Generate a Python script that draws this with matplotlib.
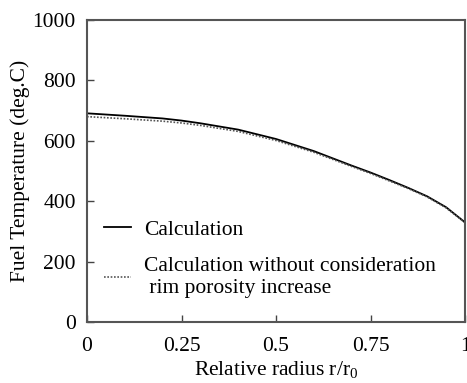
import matplotlib
matplotlib.use("Agg")
import matplotlib.pyplot as plt

plt.rcParams["font.family"] = ["Liberation Serif", "DejaVu Serif"]
plt.rcParams["mathtext.fontset"] = "custom"
plt.rcParams["mathtext.rm"] = "Liberation Serif"

radius = [0.0, 0.1, 0.2, 0.25, 0.3, 0.4, 0.5, 0.6, 0.7, 0.75, 0.8, 0.85, 0.9, 0.95, 1.0]
temp_calc = [691, 683, 674, 667, 658, 637, 606, 566, 518, 495, 470, 444, 416, 380, 330]
temp_no_rim = [680, 673, 665, 659, 651, 631, 601, 562, 515, 492, 467, 442, 414, 378, 329]

x_ticks = [0, 0.25, 0.5, 0.75, 1]
x_tick_labels = ["0", "0.25", "0.5", "0.75", "1"]
y_ticks = [0, 200, 400, 600, 800, 1000]

fig = plt.figure(figsize=(4.67, 3.83), dpi=100)
ax = fig.add_axes([87 / 467, 61 / 383, 378 / 467, 302 / 383])

ax.plot(radius, temp_calc, color="black", linewidth=1.3, label="Calculation")
ax.plot(radius, temp_no_rim, color="#555555", linewidth=1.2, linestyle=(0, (1, 1)),
        label="Calculation without consideration\n rim porosity increase")

ax.set_xlim(0, 1)
ax.set_ylim(0, 1000)
ax.set_xticks(x_ticks)
ax.set_xticklabels(x_tick_labels)
ax.set_yticks(y_ticks)
ax.tick_params(direction="in", length=5, width=1, color="#444444",
               labelsize=15.5, pad=8)
ax.tick_params(axis="x", pad=11)
for spine in ax.spines.values():
    spine.set_color("#555555")
    spine.set_linewidth(1.5)

ax.set_xlabel("Relative radius r/r$_0$", fontsize=15.5, labelpad=2)
ax.set_ylabel("Fuel Temperature (deg.C)", fontsize=15.5, labelpad=2)

ax.legend(loc="lower left", bbox_to_anchor=(0.022, 0.05), frameon=False,
          fontsize=15.5, handlelength=1.25, handletextpad=0.6, labelspacing=0.83,
          borderaxespad=0)

fig.savefig("out.png", dpi=100)
